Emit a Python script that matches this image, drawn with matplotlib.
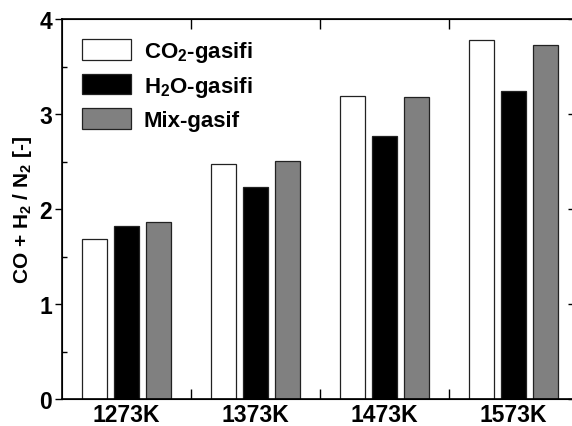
import numpy as np
import matplotlib
matplotlib.use("Agg")
import matplotlib.pyplot as plt
from matplotlib.ticker import MultipleLocator

plt.rcParams['font.family'] = 'Liberation Sans'
plt.rcParams['font.weight'] = 'bold'
plt.rcParams['mathtext.fontset'] = 'custom'
plt.rcParams['mathtext.rm'] = 'Liberation Sans:bold'
plt.rcParams['mathtext.it'] = 'Liberation Sans:bold'
plt.rcParams['mathtext.bf'] = 'Liberation Sans:bold'

temps = ["1273K", "1373K", "1473K", "1573K"]
co2_gasifi = [1.68, 2.47, 3.19, 3.78]
h2o_gasifi = [1.82, 2.23, 2.77, 3.24]
mix_gasif = [1.86, 2.51, 3.18, 3.73]

series = [
    ("CO$_2$-gasifi", co2_gasifi, "white"),
    ("H$_2$O-gasifi", h2o_gasifi, "black"),
    ("Mix-gasif", mix_gasif, "#808080"),
]

fig = plt.figure(figsize=(5.72, 4.27), dpi=100)
ax = fig.add_axes([62/572, 27/427, 516/572, 380/427])

x = np.arange(len(temps))
w = 0.193
off = 0.25
for i, (lab, vals, col) in enumerate(series):
    ax.bar(x + (i - 1) * off, vals, width=w, color=col, edgecolor="#222222",
           linewidth=0.9, label=lab)

ax.set_xlim(-0.5, 3.5)
ax.set_ylim(0, 4)
ax.set_xticks(x)
ax.set_xticklabels(temps, fontsize=16.5, fontweight="bold")
ax.set_xticks([0.5, 1.5, 2.5], minor=True)
ax.tick_params(axis="x", which="major", length=0, pad=3)
ax.tick_params(axis="x", which="minor", direction="in", length=7, width=1,
               top=True, bottom=True)

ax.yaxis.set_major_locator(MultipleLocator(1))
ax.yaxis.set_minor_locator(MultipleLocator(0.5))
ax.tick_params(axis="y", which="major", direction="out", length=5, width=1,
               labelsize=16.5, pad=2)
ax.tick_params(axis="y", which="minor", direction="in", length=3.5, width=1)
for t in ax.get_yticklabels():
    t.set_fontweight("bold")

# right side ticks (spine is off the picture)
ax2 = ax.twinx()
ax2.set_ylim(0, 4)
ax2.yaxis.set_major_locator(MultipleLocator(1))
ax2.tick_params(axis="y", direction="in", length=7, width=1, labelright=False)

for s in ax.spines.values():
    s.set_linewidth(1.2)

ax.set_ylabel("CO + H$_2$ / N$_2$ [-]", fontsize=15, fontweight="bold", labelpad=4)

ax.legend(loc="upper left", frameon=False, fontsize=16, handlelength=2.2,
          handleheight=1.05, handletextpad=0.58, labelspacing=0.43,
          borderaxespad=0.5, borderpad=0.4, bbox_to_anchor=(0.0, 1.0))

fig.savefig("out.png", dpi=100)
